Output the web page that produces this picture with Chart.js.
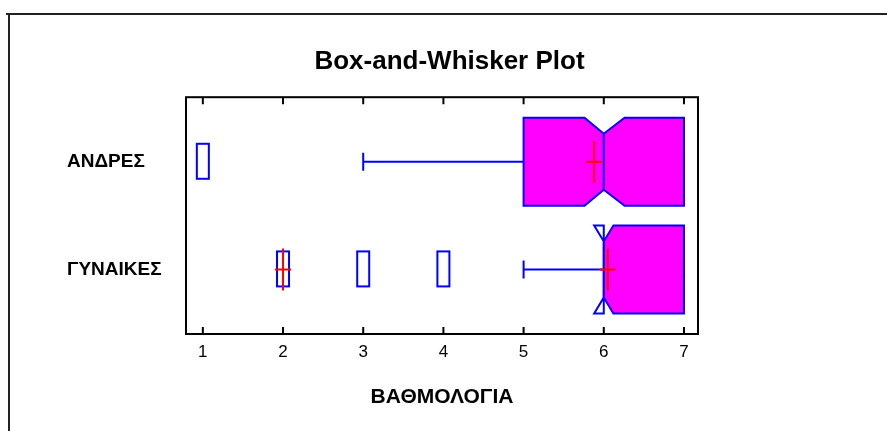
<!DOCTYPE html>
<html>
<head>
<meta charset="utf-8">
<script src="https://cdn.jsdelivr.net/npm/chart.js@4.4.1/dist/chart.umd.min.js"></script>
<style>
  body { margin: 0; background: #fff; }
  canvas { display: block; }
</style>
</head>
<body>
<canvas id="c" width="887" height="431"></canvas>
<script>
// data
const categories = ['ΑΝΔΡΕΣ', 'ΓΥΝΑΙΚΕΣ'];
const whiskerLow = [3, 5];
const q1 = [5, 6];
const median = [6, 6];
const q3 = [7, 7];
const whiskerHigh = [7, 7];
const means = [5.88, 6.05];
const notchLow = [5.76, 5.88];
const notchHigh = [6.26, 6.12];
const outliers = [[1], [2, 3, 4]];
const farOutliers = [[], [2]];
const xTicks = [1, 2, 3, 4, 5, 6, 7];

const FONT = "'Liberation Sans', Arial, Helvetica, sans-serif";
const BLUE = '#0000ff', RED = '#ff0000', MAGENTA = '#ff00ff';

function redCross(ctx, px, py) {
    ctx.strokeStyle = RED;
    ctx.beginPath();
    ctx.moveTo(px, py - 21); ctx.lineTo(px, py + 21);
    ctx.moveTo(px - 8, py); ctx.lineTo(px + 8, py);
    ctx.stroke();
}

// draws the boxes, whiskers, outliers and the frame through the scales
const boxPlotDraw = {
    id: 'boxPlotDraw',
    beforeDraw(chart) {
        const ctx = chart.ctx;
        ctx.save();
        ctx.fillStyle = '#fff';
        ctx.fillRect(0, 0, chart.width, chart.height);
        ctx.strokeStyle = '#222';
        ctx.lineWidth = 2;
        ctx.beginPath();
        ctx.moveTo(6, 14); ctx.lineTo(chart.width, 14);
        ctx.moveTo(9, 14); ctx.lineTo(9, chart.height);
        ctx.stroke();
        ctx.restore();
    },
    afterDatasetsDraw(chart) {
        const { ctx, chartArea: a, scales: { x, y } } = chart;
        ctx.save();
        ctx.lineWidth = 2;
        ctx.lineJoin = 'miter';

        categories.forEach((c, i) => {
            const cy = y.getPixelForValue(i);
            const top = cy - 44, bot = cy + 44;
            const it = top + 16, ib = bot - 16;
            const wl = x.getPixelForValue(whiskerLow[i]);
            const b1 = x.getPixelForValue(q1[i]);
            const md = x.getPixelForValue(median[i]);
            const b3 = x.getPixelForValue(q3[i]);
            const wh = x.getPixelForValue(whiskerHigh[i]);
            const nl = x.getPixelForValue(notchLow[i]);
            const nh = x.getPixelForValue(notchHigh[i]);

            // whiskers + caps
            ctx.strokeStyle = BLUE;
            ctx.beginPath();
            ctx.moveTo(wl, cy); ctx.lineTo(b1, cy);
            ctx.moveTo(wl, cy - 9); ctx.lineTo(wl, cy + 9);
            ctx.moveTo(b3, cy); ctx.lineTo(wh, cy);
            ctx.moveTo(wh, cy - 9); ctx.lineTo(wh, cy + 9);
            ctx.stroke();

            // notched box
            const pts = [[b1, top], [nl, top], [md, it], [nh, top], [b3, top],
                         [b3, bot], [nh, bot], [md, ib], [nl, bot], [b1, bot]];
            ctx.fillStyle = MAGENTA;
            ctx.beginPath();
            pts.forEach(([px, py], k) => {
                const cx = Math.min(Math.max(px, b1), b3);
                k ? ctx.lineTo(cx, py) : ctx.moveTo(cx, py);
            });
            ctx.closePath();
            ctx.fill();
            ctx.beginPath();
            pts.forEach(([px, py], k) => k ? ctx.lineTo(px, py) : ctx.moveTo(px, py));
            ctx.closePath();
            ctx.stroke();
            // median line
            ctx.beginPath();
            ctx.moveTo(md, it); ctx.lineTo(md, ib);
            ctx.stroke();

            // outside points
            outliers[i].forEach(v => {
                const px = x.getPixelForValue(v);
                ctx.fillStyle = '#fff';
                ctx.strokeStyle = BLUE;
                ctx.fillRect(px - 6, cy - 18, 12, 35);
                ctx.strokeRect(px - 6, cy - 18, 12, 35);
            });
            farOutliers[i].forEach(v => redCross(ctx, x.getPixelForValue(v), cy));

            // mean
            redCross(ctx, x.getPixelForValue(means[i]), cy);
        });

        // plot frame + inward ticks
        ctx.strokeStyle = '#000';
        ctx.strokeRect(a.left, a.top, a.right - a.left, a.bottom - a.top);
        ctx.beginPath();
        xTicks.forEach(v => {
            const px = x.getPixelForValue(v);
            ctx.moveTo(px, a.bottom); ctx.lineTo(px, a.bottom - 7);
            ctx.moveTo(px, a.top); ctx.lineTo(px, a.top + 7);
        });
        ctx.stroke();
        ctx.restore();
    }
};

new Chart(document.getElementById('c'), {
    type: 'scatter',
    data: {
        datasets: [{
            data: categories.map((c, i) => ({ x: median[i], y: i })),
            pointRadius: 0,
            pointHoverRadius: 0
        }]
    },
    options: {
        responsive: false,
        animation: false,
        events: [],
        layout: { padding: { left: 12, right: 0, top: 0, bottom: 0 } },
        plugins: {
            legend: { display: false },
            tooltip: { enabled: false },
            title: {
                display: true,
                text: 'Box-and-Whisker Plot',
                color: '#000',
                font: { family: FONT, size: 26, weight: 'bold' },
                padding: { top: 46, bottom: 20 }
            }
        },
        scales: {
            x: {
                type: 'linear',
                position: 'bottom',
                min: 0.79,
                max: 7.175,
                afterBuildTicks: s => { s.ticks = xTicks.map(v => ({ value: v })); },
                afterFit: s => { s.height = 97; },
                grid: { display: false, drawTicks: false },
                border: { display: false },
                ticks: {
                    color: '#000',
                    font: { family: FONT, size: 17 },
                    padding: 8,
                    autoSkip: false,
                    maxRotation: 0
                },
                title: {
                    display: true,
                    text: 'ΒΑΘΜΟΛΟΓΙΑ',
                    color: '#000',
                    font: { family: FONT, size: 21, weight: 'bold' },
                    padding: { top: 0, bottom: 21 }
                }
            },
            y: {
                type: 'linear',
                position: 'left',
                reverse: true,
                min: -0.6,
                max: 1.6,
                weight: 0,
                afterBuildTicks: s => { s.ticks = categories.map((c, i) => ({ value: i })); },
                afterFit: s => { s.width = 119; },
                grid: { display: false, drawTicks: false },
                border: { display: false },
                ticks: {
                    color: '#000',
                    font: { family: FONT, size: 19, weight: 'bold' },
                    crossAlign: 'far',
                    callback: v => categories[v]
                }
            },
            yPad: {
                type: 'linear',
                position: 'left',
                weight: 1,
                min: 0, max: 1,
                afterFit: s => { s.width = 55; },
                grid: { display: false, drawTicks: false },
                border: { display: false },
                ticks: { display: false }
            },
            yRight: {
                type: 'linear',
                position: 'right',
                min: 0, max: 1,
                afterFit: s => { s.width = 189; },
                grid: { display: false, drawTicks: false },
                border: { display: false },
                ticks: { display: false }
            }
        }
    },
    plugins: [boxPlotDraw]
});
</script>
</body>
</html>
